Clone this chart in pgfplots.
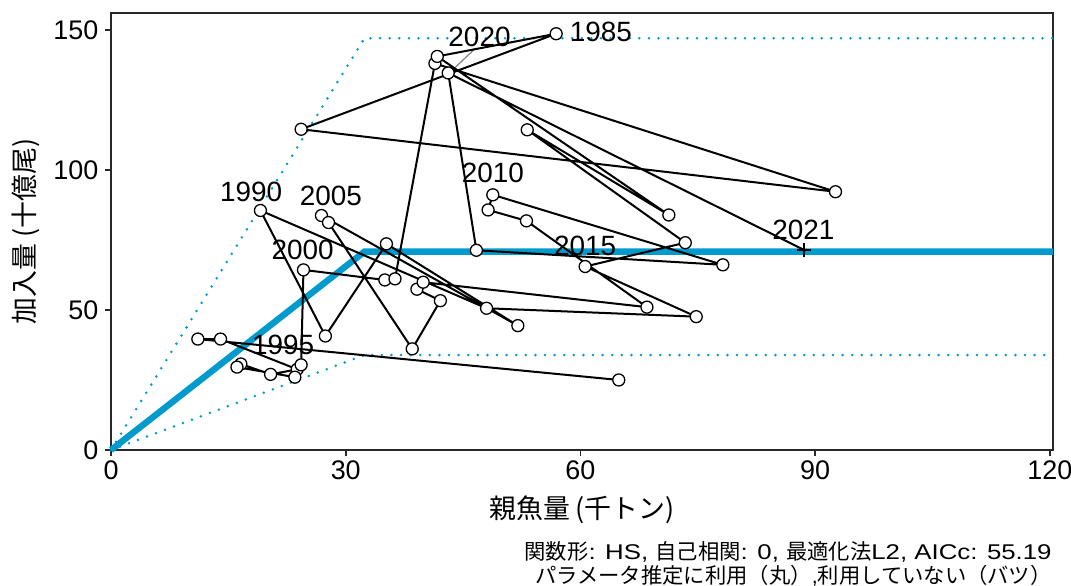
\documentclass[border=0pt]{standalone}
\usepackage{fontspec}
\setmainfont{Liberation Sans}
\newfontfamily\lat{Liberation Sans}
\newfontfamily\jp{Noto Sans CJK JP}
\usepackage{graphicx}
\usepackage{pgfplots}
\pgfplotsset{compat=1.18}
\definecolor{hsblue}{RGB}{0,154,205}
\definecolor{frame}{RGB}{40,40,40}
\newcommand{\wl}[1]{\scalebox{1.21}[1]{\lat #1}}
\begin{document}
\begin{tikzpicture}
\begin{axis}[
  at={(0,0)}, anchor=south west,
  scale only axis, width=471bp, height=218.5bp,
  xmin=0, xmax=120.4, ymin=0, ymax=156,
  xtick={0,30,60,90,120}, ytick={0,50,100,150},
  xtick pos=bottom, ytick pos=left,
  tick align=outside, major tick length=2.8bp,
  axis line style={frame, line width=0.9bp},
  every tick/.style={frame, line width=0.9bp},
  tick label style={font=\fontsize{13.5}{13.5}\selectfont, black},
  xticklabel style={yshift=1bp},
  /pgf/number format/assume math mode=true,
  xlabel={\jp 親魚量 (千トン)}, ylabel={\jp 加入量 (十億尾)},
  label style={font=\fontsize{13.5}{14}\selectfont},
  xlabel style={yshift=-1bp},
  clip=false,
]
% dotted bounds
\addplot[hsblue, line width=1.4bp, dash pattern=on 0bp off 4.8bp, line cap=round] coordinates {(0,0) (32.4,147.0) (120.4,147.0)};
\addplot[hsblue, line width=1.4bp, dash pattern=on 0bp off 4.8bp, line cap=round] coordinates {(0,0) (32.4,33.9) (120.4,33.9)};
% hockey stick
\addplot[hsblue, line width=3.2bp] coordinates {(0,0) (32.4,70.8) (120.4,70.8)};
% label segment 2020
\addplot[gray, line width=0.6bp] coordinates {(43.7,135.8) (46.5,143.2)};
% path (years 1981-2021)
\addplot[black, line width=1bp, line join=round] coordinates {
(64.9,25.0) (11.1,39.6) (14.0,39.6) (23.8,28.8) (20.4,27.0)
(16.6,30.7) (16.1,29.6) (23.5,26.0) (24.3,30.4) (24.6,64.3)
(35.0,60.7) (36.3,61.1) (41.4,138.0) (92.6,92.2) (24.3,114.5)
(56.9,148.6) (41.7,140.5) (71.3,83.9) (53.2,114.3) (73.4,74.0)
(60.6,65.5) (74.8,47.6) (48.0,50.6) (19.1,85.5) (27.4,40.7)
(35.2,73.6) (52.0,44.4) (26.9,83.7) (27.8,81.2) (38.5,36.1)
(42.1,53.3) (39.1,57.4) (39.9,59.9) (68.5,51.0) (53.1,81.8)
(48.2,85.7) (48.8,91.1) (78.2,66.1) (46.7,71.3) (43.1,134.6)
(88.6,71.4)
};
% points used for estimation (circles)
\addplot[only marks, mark=*, mark size=3bp,
  mark options={fill=white, draw=black, line width=0.65bp}] coordinates {
(64.9,25.0) (11.1,39.6) (14.0,39.6) (23.8,28.8) (20.4,27.0)
(16.6,30.7) (16.1,29.6) (23.5,26.0) (24.3,30.4) (24.6,64.3)
(35.0,60.7) (36.3,61.1) (41.4,138.0) (92.6,92.2) (24.3,114.5)
(56.9,148.6) (41.7,140.5) (71.3,83.9) (53.2,114.3) (73.4,74.0)
(60.6,65.5) (74.8,47.6) (48.0,50.6) (19.1,85.5) (27.4,40.7)
(35.2,73.6) (52.0,44.4) (26.9,83.7) (27.8,81.2) (38.5,36.1)
(42.1,53.3) (39.1,57.4) (39.9,59.9) (68.5,51.0) (53.1,81.8)
(48.2,85.7) (48.8,91.1) (78.2,66.1) (46.7,71.3) (43.1,134.6)
};
% point not used (cross)
\addplot[only marks, mark=+, mark size=3.6bp, mark options={black, line width=0.8bp}] coordinates {(88.6,71.4)};
% year labels
\begin{scope}[every node/.style={font=\fontsize{14}{14}\selectfont, inner sep=0pt}]
\node at (axis cs:62.6,149.1) {1985};
\node at (axis cs:17.9,92.3) {1990};
\node at (axis cs:22.0,37.5) {1995};
\node at (axis cs:24.5,71.4) {2000};
\node at (axis cs:28.1,90.8) {2005};
\node at (axis cs:48.8,98.8) {2010};
\node at (axis cs:60.6,72.9) {2015};
\node at (axis cs:47.1,147.3) {2020};
\node at (axis cs:88.5,78.6) {2021};
\end{scope}
\end{axis}
\node[anchor=base east, inner sep=0pt, font=\fontsize{10.7}{12}\selectfont] at (470.5bp,-54.5bp) {{\jp 関数形}\wl{: HS, }{\jp 自己相関}\wl{: 0, }{\jp 最適化法}\wl{L2, AICc: 55.19}};
\node[anchor=base east, inner sep=0pt, font=\fontsize{10.7}{12}\selectfont] at (470.5bp,-66.5bp) {{\jp パラメータ推定に利用（丸）}{\lat ,}{\jp 利用していない（バツ）}};
\pgfresetboundingbox
\path (-55.5bp,-68bp) rectangle (480bp,225bp);
\end{tikzpicture}
\end{document}
